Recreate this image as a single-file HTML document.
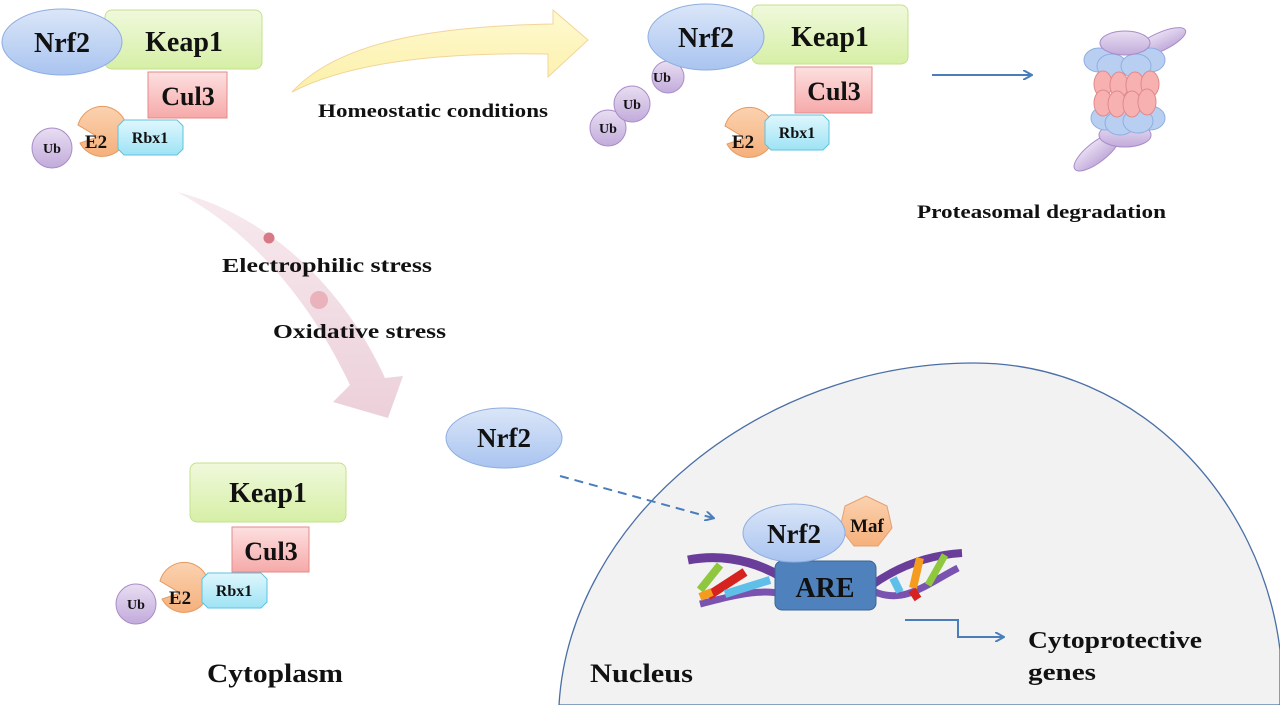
<!DOCTYPE html>
<html><head><meta charset="utf-8"><style>
html,body{margin:0;padding:0;background:#fff}
svg{display:block}
text{font-family:"Liberation Serif",serif;font-weight:bold;fill:#111}
</style></head><body>
<svg width="1280" height="705" viewBox="0 0 1280 705">
<defs>
<linearGradient id="gb" x1="0" y1="0" x2="0" y2="1"><stop offset="0" stop-color="#dbe6f8"/><stop offset="1" stop-color="#a9c4f0"/></linearGradient>
<linearGradient id="gg" x1="0" y1="0" x2="0" y2="1"><stop offset="0" stop-color="#f0f9dc"/><stop offset="1" stop-color="#d6efa6"/></linearGradient>
<linearGradient id="gr" x1="0" y1="0" x2="0" y2="1"><stop offset="0" stop-color="#fde0e0"/><stop offset="1" stop-color="#f6a9a9"/></linearGradient>
<linearGradient id="gc" x1="0" y1="0" x2="0" y2="1"><stop offset="0" stop-color="#dff7fd"/><stop offset="1" stop-color="#9ee3f5"/></linearGradient>
<linearGradient id="go" x1="0" y1="0" x2="0" y2="1"><stop offset="0" stop-color="#fbd2b0"/><stop offset="1" stop-color="#f5b07c"/></linearGradient>
<linearGradient id="gp" x1="0" y1="0" x2="0" y2="1"><stop offset="0" stop-color="#e8def2"/><stop offset="1" stop-color="#c2abdb"/></linearGradient>
<linearGradient id="gy" x1="0" y1="0" x2="0" y2="1"><stop offset="0" stop-color="#fff9d0"/><stop offset="1" stop-color="#fbf0a8"/></linearGradient>
<linearGradient id="gpk" x1="0" y1="0" x2="0" y2="1"><stop offset="0" stop-color="#f7eaee"/><stop offset="1" stop-color="#ecd0da"/></linearGradient>
<marker id="ah" markerWidth="10" markerHeight="10" refX="8" refY="5" orient="auto" markerUnits="userSpaceOnUse"><path d="M0,0 L9,5 L0,10" fill="none" stroke="#4a7ebb" stroke-width="2"/></marker>
</defs>

<path d="M559,705 C570,520 760,363 974,363 C1140,363 1262,500 1280,650 L1280,705 Z" fill="#f2f2f2" stroke="#4a6fa5" stroke-width="1.3"/>

<path d="M292,92 C340,40 440,26 553,24 L553,10 L588,40 L548,77 L548,54 C440,52 350,62 292,92 Z" fill="url(#gy)" stroke="#f3d49a" stroke-width="1"/>
<text x="318" y="117" font-size="19" textLength="230" lengthAdjust="spacingAndGlyphs">Homeostatic conditions</text>

<path d="M177,192 C270,215 345,290 385,378 L403,376 L388,418 L333,402 L350,385 C310,300 250,230 177,192 Z" fill="url(#gpk)"/>
<circle cx="269" cy="238" r="5.5" fill="#d77a86"/>
<circle cx="319" cy="300" r="9" fill="#eab3bc"/>
<text x="222" y="272" font-size="20" textLength="210" lengthAdjust="spacingAndGlyphs">Electrophilic stress</text>
<text x="273" y="338" font-size="20" textLength="173" lengthAdjust="spacingAndGlyphs">Oxidative stress</text>

<rect x="105" y="10" width="157" height="59" rx="7" fill="url(#gg)" stroke="#c5e08d"/>
<ellipse cx="62" cy="42" rx="60" ry="33" fill="url(#gb)" stroke="#8eaee0"/>
<text x="62" y="52" font-size="28" text-anchor="middle">Nrf2</text>
<text x="184" y="51" font-size="28" text-anchor="middle">Keap1</text>
<rect x="148" y="72" width="79" height="46" fill="url(#gr)" stroke="#e58a8a"/>
<text x="188" y="105" font-size="26" text-anchor="middle">Cul3</text>
<path d="M98,137 L78,125 A25,25 0 1 1 80,143 Z" fill="url(#go)" stroke="#e59a60"/>
<circle cx="52" cy="148" r="20" fill="url(#gp)" stroke="#a98cc8"/>
<text x="52" y="153" font-size="14" text-anchor="middle">Ub</text>
<text x="96" y="148" font-size="19" text-anchor="middle">E2</text>
<path d="M124,120 H177 L183,126 V149 L177,155 H124 L118,149 V126 Z" fill="url(#gc)" stroke="#5fc2df"/>
<text x="150" y="143" font-size="16" text-anchor="middle">Rbx1</text>

<rect x="752" y="5" width="156" height="59" rx="7" fill="url(#gg)" stroke="#c5e08d"/>
<circle cx="608" cy="128" r="18" fill="url(#gp)" stroke="#a98cc8"/>
<circle cx="632" cy="104" r="18" fill="url(#gp)" stroke="#a98cc8"/>
<circle cx="668" cy="77" r="16" fill="url(#gp)" stroke="#a98cc8"/>
<text x="608" y="133" font-size="14" text-anchor="middle">Ub</text>
<text x="632" y="109" font-size="14" text-anchor="middle">Ub</text>
<text x="662" y="82" font-size="14" text-anchor="middle">Ub</text>
<ellipse cx="706" cy="37" rx="58" ry="33" fill="url(#gb)" stroke="#8eaee0"/>
<text x="706" y="47" font-size="28" text-anchor="middle">Nrf2</text>
<text x="830" y="46" font-size="28" text-anchor="middle">Keap1</text>
<rect x="795" y="67" width="77" height="46" fill="url(#gr)" stroke="#e58a8a"/>
<text x="834" y="100" font-size="26" text-anchor="middle">Cul3</text>
<path d="M745,138 L725,126 A25,25 0 1 1 727,144 Z" fill="url(#go)" stroke="#e59a60"/>
<text x="743" y="148" font-size="19" text-anchor="middle">E2</text>
<path d="M771,115 H823 L829,121 V144 L823,150 H771 L765,144 V121 Z" fill="url(#gc)" stroke="#5fc2df"/>
<text x="797" y="138" font-size="16" text-anchor="middle">Rbx1</text>

<line x1="932" y1="75" x2="1031" y2="75" stroke="#4a7ebb" stroke-width="2" marker-end="url(#ah)"/>

<g stroke-width="1">
<ellipse cx="1160" cy="42" rx="28" ry="9" transform="rotate(-25 1160 42)" fill="url(#gp)" stroke="#a98cc8"/>
<ellipse cx="1097" cy="152" rx="28" ry="10" transform="rotate(-38 1097 152)" fill="url(#gp)" stroke="#a98cc8"/>
<ellipse cx="1125" cy="135" rx="26" ry="12" fill="url(#gp)" stroke="#a98cc8"/>
<ellipse cx="1106" cy="118" rx="15" ry="12" fill="#b9cff2" stroke="#8eaee0"/>
<ellipse cx="1150" cy="118" rx="15" ry="12" fill="#b9cff2" stroke="#8eaee0"/>
<ellipse cx="1120" cy="123" rx="15" ry="12" fill="#b9cff2" stroke="#8eaee0"/>
<ellipse cx="1138" cy="121" rx="15" ry="12" fill="#b9cff2" stroke="#8eaee0"/>
<ellipse cx="1099" cy="60" rx="15" ry="12" fill="#b9cff2" stroke="#8eaee0"/>
<ellipse cx="1150" cy="60" rx="15" ry="12" fill="#b9cff2" stroke="#8eaee0"/>
<ellipse cx="1112" cy="66" rx="15" ry="12" fill="#b9cff2" stroke="#8eaee0"/>
<ellipse cx="1136" cy="66" rx="15" ry="12" fill="#b9cff2" stroke="#8eaee0"/>
<ellipse cx="1103" cy="84" rx="9" ry="13" fill="#f7b1b1" stroke="#e08a8a"/>
<ellipse cx="1119" cy="85" rx="9" ry="13" fill="#f7b1b1" stroke="#e08a8a"/>
<ellipse cx="1135" cy="85" rx="9" ry="13" fill="#f7b1b1" stroke="#e08a8a"/>
<ellipse cx="1150" cy="84" rx="9" ry="13" fill="#f7b1b1" stroke="#e08a8a"/>
<ellipse cx="1103" cy="103" rx="9" ry="13" fill="#f7b1b1" stroke="#e08a8a"/>
<ellipse cx="1117" cy="104" rx="9" ry="13" fill="#f7b1b1" stroke="#e08a8a"/>
<ellipse cx="1132" cy="104" rx="9" ry="13" fill="#f7b1b1" stroke="#e08a8a"/>
<ellipse cx="1147" cy="102" rx="9" ry="13" fill="#f7b1b1" stroke="#e08a8a"/>
<ellipse cx="1125" cy="43" rx="25" ry="12" fill="url(#gp)" stroke="#a98cc8"/>
</g>
<text x="917" y="218" font-size="19" textLength="249" lengthAdjust="spacingAndGlyphs">Proteasomal degradation</text>

<ellipse cx="504" cy="438" rx="58" ry="30" fill="url(#gb)" stroke="#8eaee0"/>
<text x="504" y="447" font-size="27" text-anchor="middle">Nrf2</text>
<line x1="560" y1="476" x2="713" y2="518" stroke="#4a7ebb" stroke-width="2" stroke-dasharray="9,6" marker-end="url(#ah)"/>

<rect x="190" y="463" width="156" height="59" rx="7" fill="url(#gg)" stroke="#c5e08d"/>
<text x="268" y="502" font-size="28" text-anchor="middle">Keap1</text>
<rect x="232" y="527" width="77" height="45" fill="url(#gr)" stroke="#e58a8a"/>
<text x="271" y="560" font-size="26" text-anchor="middle">Cul3</text>
<path d="M180,593 L160,581 A25,25 0 1 1 162,599 Z" fill="url(#go)" stroke="#e59a60"/>
<circle cx="136" cy="604" r="20" fill="url(#gp)" stroke="#a98cc8"/>
<text x="136" y="609" font-size="14" text-anchor="middle">Ub</text>
<text x="180" y="604" font-size="19" text-anchor="middle">E2</text>
<path d="M208,573 H261 L267,579 V602 L261,608 H208 L202,602 V579 Z" fill="url(#gc)" stroke="#5fc2df"/>
<text x="234" y="596" font-size="16" text-anchor="middle">Rbx1</text>
<text x="207" y="682" font-size="26" textLength="136" lengthAdjust="spacingAndGlyphs">Cytoplasm</text>

<g fill="none" stroke-linecap="butt">
<path d="M688,560 C730,552 770,565 800,590" stroke="#6a3d9a" stroke-width="9"/>
<path d="M700,604 C740,594 770,585 800,600" stroke="#7a52b0" stroke-width="7"/>
<line x1="700" y1="590" x2="720" y2="565" stroke="#8fc73e" stroke-width="8"/>
<line x1="708" y1="596" x2="745" y2="572" stroke="#d6231f" stroke-width="9"/>
<line x1="725" y1="594" x2="770" y2="580" stroke="#5fbfe8" stroke-width="8"/>
<line x1="700" y1="597" x2="712" y2="592" stroke="#f59b1d" stroke-width="8"/>
<path d="M872,585 C900,565 930,555 962,553" stroke="#6a3d9a" stroke-width="8"/>
<path d="M875,592 C905,604 925,585 958,568" stroke="#7a52b0" stroke-width="7"/>
<line x1="920" y1="558" x2="913" y2="588" stroke="#f59b1d" stroke-width="8"/>
<line x1="945" y1="555" x2="928" y2="585" stroke="#8fc73e" stroke-width="7"/>
<line x1="893" y1="578" x2="900" y2="592" stroke="#5fbfe8" stroke-width="8"/>
<line x1="912" y1="590" x2="918" y2="599" stroke="#d6231f" stroke-width="8"/>
</g>
<rect x="775" y="561" width="101" height="49" rx="7" fill="#4f81bd" stroke="#3a6496"/>
<text x="825" y="597" font-size="28" text-anchor="middle">ARE</text>
<polygon points="866,496 887,506 892,528 878,546 854,546 840,528 845,506" fill="url(#go)" stroke="#e5a070"/>
<ellipse cx="794" cy="533" rx="51" ry="29" fill="url(#gb)" stroke="#8eaee0"/>
<text x="794" y="543" font-size="27" text-anchor="middle">Nrf2</text>
<text x="867" y="532" font-size="19" text-anchor="middle">Maf</text>

<path d="M905,620 H958 V637 H1003" fill="none" stroke="#4a7ebb" stroke-width="2" marker-end="url(#ah)"/>
<text x="1028" y="648" font-size="24" textLength="174" lengthAdjust="spacingAndGlyphs">Cytoprotective</text>
<text x="1028" y="680" font-size="24" textLength="68" lengthAdjust="spacingAndGlyphs">genes</text>
<text x="590" y="682" font-size="26" textLength="103" lengthAdjust="spacingAndGlyphs">Nucleus</text>
</svg>
</body></html>
